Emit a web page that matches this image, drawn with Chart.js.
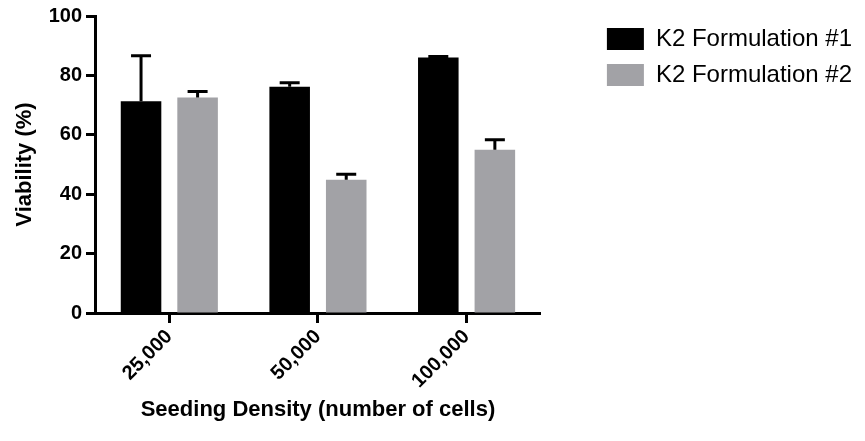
<!DOCTYPE html>
<html>
<head>
<meta charset="utf-8">
<title>Viability by seeding density</title>
<script src="https://cdn.jsdelivr.net/npm/chart.js@4.4.1/dist/chart.umd.min.js"></script>
<style>
    body { margin: 0; background: #ffffff; }
    #chartBox { width: 865px; height: 441px; }
</style>
</head>
<body>
<div id="chartBox"><canvas id="viabilityChart" width="865" height="441"></canvas></div>
<script>
// Seeding densities on the x axis
const categories = ['25,000', '50,000', '100,000'];

// Mean viability (%) and the upper error for each formulation
const formulation1 = [71.3, 76.2, 86.0];
const formulation1Err = [15.3, 1.3, 0.4];
const formulation2 = [72.6, 44.9, 55.0];
const formulation2Err = [2.0, 1.8, 3.3];

// Y axis ticks
const yTicks = [0, 20, 40, 60, 80, 100];

const seriesNames = ['K2 Formulation #1', 'K2 Formulation #2'];
const seriesColors = ['#000000', '#a2a2a6'];

const fontName = "'Liberation Sans', Arial, sans-serif";

// Draws the upper error bar (line + cap) on top of every bar
const errorBarPlugin = {
    id: 'errorBars',
    afterDatasetsDraw(chart) {
        const ctx = chart.ctx;
        const yScale = chart.scales.y;
        chart.data.datasets.forEach((dataset, i) => {
            const meta = chart.getDatasetMeta(i);
            meta.data.forEach((bar, j) => {
                const top = yScale.getPixelForValue(dataset.data[j] + dataset.errors[j]);
                ctx.save();
                ctx.strokeStyle = '#000000';
                ctx.lineWidth = 3;
                ctx.beginPath();
                ctx.moveTo(bar.x, bar.y);
                ctx.lineTo(bar.x, top);
                ctx.moveTo(bar.x - 10, top);
                ctx.lineTo(bar.x + 10, top);
                ctx.stroke();
                ctx.restore();
            });
        });
    }
};

function buildChart() {
    const ctx = document.getElementById('viabilityChart').getContext('2d');
    const viabilityChart = new Chart(ctx, {
        type: 'bar',
        data: {
            labels: categories,
            datasets: [{
                label: seriesNames[0],
                data: formulation1,
                errors: formulation1Err,
                backgroundColor: seriesColors[0],
                borderWidth: 0,
                categoryPercentage: 0.761,
                barPercentage: 0.717
            }, {
                label: seriesNames[1],
                data: formulation2,
                errors: formulation2Err,
                backgroundColor: seriesColors[1],
                borderWidth: 0,
                categoryPercentage: 0.761,
                barPercentage: 0.717
            }]
        },
        options: {
            responsive: false,
            animation: false,
            layout: {
                padding: { top: 15, right: 3, bottom: 0, left: 0 }
            },
            plugins: {
                legend: {
                    position: 'right',
                    align: 'start',
                    maxWidth: 300,
                    labels: {
                        boxWidth: 37,
                        boxHeight: 22,
                        padding: 12,
                        color: '#000000',
                        font: { family: fontName, size: 24 }
                    }
                },
                tooltip: { enabled: false }
            },
            scales: {
                x: {
                    grid: {
                        offset: false,
                        drawOnChartArea: false,
                        tickLength: 10,
                        tickWidth: 3,
                        color: '#000000'
                    },
                    border: { display: true, color: '#000000', width: 3 },
                    ticks: {
                        color: '#000000',
                        maxRotation: 45,
                        minRotation: 45,
                        padding: 2,
                        font: { family: fontName, size: 20, weight: 'bold' }
                    },
                    title: {
                        display: true,
                        text: 'Seeding Density (number of cells)',
                        color: '#000000',
                        padding: { top: 0, bottom: 18 },
                        font: { family: fontName, size: 22, weight: 'bold' }
                    },
                    afterFit(scale) {
                        scale.height = 128;
                    }
                },
                y: {
                    min: 0,
                    max: 100,
                    afterBuildTicks(scale) {
                        scale.ticks = yTicks.map(v => ({ value: v }));
                    },
                    grid: {
                        drawOnChartArea: false,
                        tickLength: 9,
                        tickWidth: 3,
                        color: '#000000'
                    },
                    border: { display: true, color: '#000000', width: 3 },
                    ticks: {
                        color: '#000000',
                        padding: 4,
                        font: { family: fontName, size: 20, weight: 'bold' }
                    },
                    title: {
                        display: true,
                        text: 'Viability (%)',
                        color: '#000000',
                        padding: { top: 12, bottom: 0 },
                        font: { family: fontName, size: 22, weight: 'bold' }
                    },
                    afterFit(scale) {
                        scale.width = 95;
                    }
                },
                // empty spacer between the plot and the legend
                gap: {
                    type: 'linear',
                    axis: 'y',
                    position: 'right',
                    grid: { display: false },
                    border: { display: false },
                    ticks: { display: false },
                    afterFit(scale) {
                        scale.width = 54;
                    }
                }
            }
        },
        plugins: [errorBarPlugin]
    });
}

window.onload = function () {
    buildChart();
}
</script>
</body>
</html>
